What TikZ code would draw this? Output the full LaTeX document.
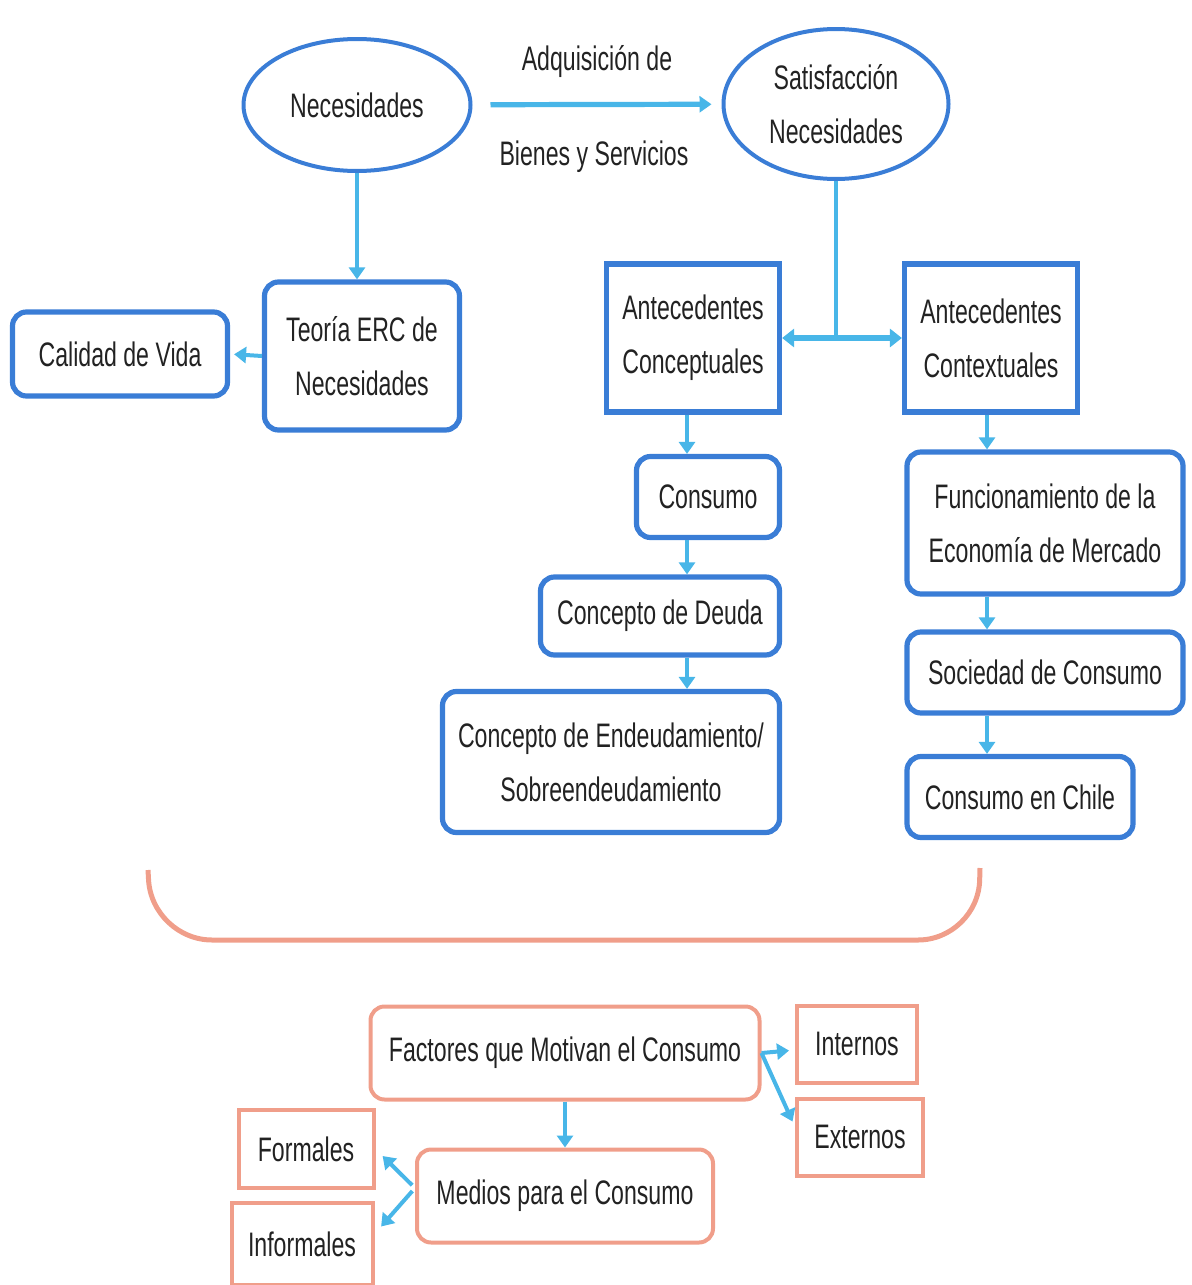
\documentclass[tikz,border=0pt]{standalone}
\usepackage{fontspec}
\setmainfont{Liberation Sans}[FakeStretch=0.68]
\usetikzlibrary{shapes.geometric, arrows.meta, positioning, calc}
\definecolor{boxblue}{RGB}{58, 125, 214}
\definecolor{flowcyan}{RGB}{72, 182, 232}
\definecolor{peach}{RGB}{240, 158, 138}
\definecolor{inktext}{RGB}{34, 34, 34}

\tikzset{
  oval/.style={ellipse, draw=boxblue, line width=2pt, inner sep=0pt, align=center},
  bluebox/.style={draw=boxblue, line width=2.6pt, rounded corners=7pt, inner sep=0pt, align=center},
  bluesquare/.style={draw=boxblue, line width=2.6pt, inner sep=0pt, align=center},
  peachbox/.style={draw=peach, line width=2pt, rounded corners=7pt, inner sep=0pt, align=center},
  peachsquare/.style={draw=peach, line width=2pt, inner sep=0pt, align=center},
  flow/.style={draw=flowcyan, line width=2pt, -{Triangle[width=8pt,length=6pt]}},
}

\begin{document}
\begin{tikzpicture}[x=0.5pt, y=-0.5pt, font=\fontsize{17}{27}\selectfont, text=inktext]
  \useasboundingbox (0,0) rectangle (1191,1285);

  % top row
  \node[oval, minimum width=113.5pt, minimum height=66pt] (need) at (357,105) {Necesidades};
  \node[oval, minimum width=112.5pt, minimum height=75pt] (satis) at (836,104) {Satisfacción\\Necesidades};
  \draw[flow, line width=2.6pt, shorten <=9pt, shorten >=5pt] (need) -- (satis)
    node[midway, yshift=21.5pt] (buy) {Adquisición de}
    node[midway, yshift=-26pt, xshift=-1.5pt] (goods) {Bienes y Servicios};

  % left branch
  \node[bluebox, minimum width=97.5pt, minimum height=74pt] (teoria) at (362,356) {Teoría ERC de\\Necesidades};
  \node[bluebox, minimum width=107.5pt, minimum height=42pt] (calidad) at (120,354) {Calidad de Vida};
  \draw[flow] (need.south) -- (need.south |- teoria.north);
  \draw[flow, shorten >=2pt] (teoria.west) -- (calidad.east);

  % antecedentes
  \node[bluesquare, minimum width=86.5pt, minimum height=74pt] (concept) at (693,338) {Antecedentes\\Conceptuales};
  \node[bluesquare, minimum width=86.5pt, minimum height=74pt] (context) at (991,338) {Antecedentes\\Contextuales};
  \coordinate (split) at (satis.south |- concept.east);
  \draw[draw=flowcyan, line width=2pt] (satis.south) -- (split);
  \draw[flow, line width=3pt, {Triangle[width=9pt,length=6pt]}-{Triangle[width=9pt,length=6pt]}] (concept.east) -- (context.west);

  % conceptual column
  \coordinate (colA) at (687,0);
  \node[bluebox, minimum width=71.5pt, minimum height=40.5pt] (consumo) at (708,497) {Consumo};
  \node[bluebox, minimum width=119.5pt, minimum height=39pt] (deuda) at (660,616) {Concepto de Deuda};
  \node[bluebox, minimum width=168.5pt, minimum height=70.5pt] (endeuda) at (611,762) {Concepto de Endeudamiento/\\Sobreendeudamiento};
  \draw[flow] (concept.south -| colA) -- (consumo.north -| colA);
  \draw[flow] (consumo.south -| colA) -- (deuda.north -| colA);
  \draw[flow] (deuda.south -| colA) -- (endeuda.north -| colA);

  % contextual column
  \coordinate (colB) at (987,0);
  \node[bluebox, minimum width=138pt, minimum height=71pt] (mercado) at (1045,523) {Funcionamiento de la\\Economía de Mercado};
  \node[bluebox, minimum width=138pt, minimum height=40.5pt] (sociedad) at (1045,672.5) {Sociedad de Consumo};
  \node[bluebox, minimum width=113pt, minimum height=40.5pt] (chile) at (1020,797) {Consumo en Chile};
  \draw[flow] (context.south -| colB) -- (mercado.north -| colB);
  \draw[flow] (mercado.south -| colB) -- (sociedad.north -| colB);
  \draw[flow] (sociedad.south -| colB) -- (chile.north -| colB);

  % brace
  \draw[draw=peach, line width=2.5pt, rounded corners=30pt] (148,870) -- (152,940) -- (978,940) -- (980,868);

  % factores
  \node[peachbox, minimum width=194.5pt, minimum height=46.5pt] (factores) at (565,1053) {Factores que Motivan el Consumo};
  \node[peachsquare, minimum width=60pt, minimum height=38.5pt] (internos) at (857,1044) {Internos};
  \node[peachsquare, minimum width=63pt, minimum height=38.5pt] (externos) at (860,1137) {Externos};
  \node[peachbox, minimum width=148pt, minimum height=46.5pt] (medios) at (565,1196) {Medios para el Consumo};
  \node[peachsquare, minimum width=67.5pt, minimum height=39pt] (formales) at (306,1149) {Formales};
  \node[peachsquare, minimum width=70.5pt, minimum height=41pt] (informales) at (302,1244) {Informales};
  \draw[flow] (factores.south) -- (medios.north);
  \draw[flow, shorten >=3pt] (factores.east) -- ([yshift=-3pt]internos.west);
  \draw[flow, shorten >=3pt] (factores.east) -- ([yshift=5pt]externos.west);
  \draw[flow, shorten <=2pt, shorten >=5pt] ([yshift=4pt]medios.west) -- (formales.east);
  \draw[flow, shorten <=2pt, shorten >=5pt] ([yshift=4pt]medios.west) -- ([yshift=5pt]informales.east);
\end{tikzpicture}
\end{document}
